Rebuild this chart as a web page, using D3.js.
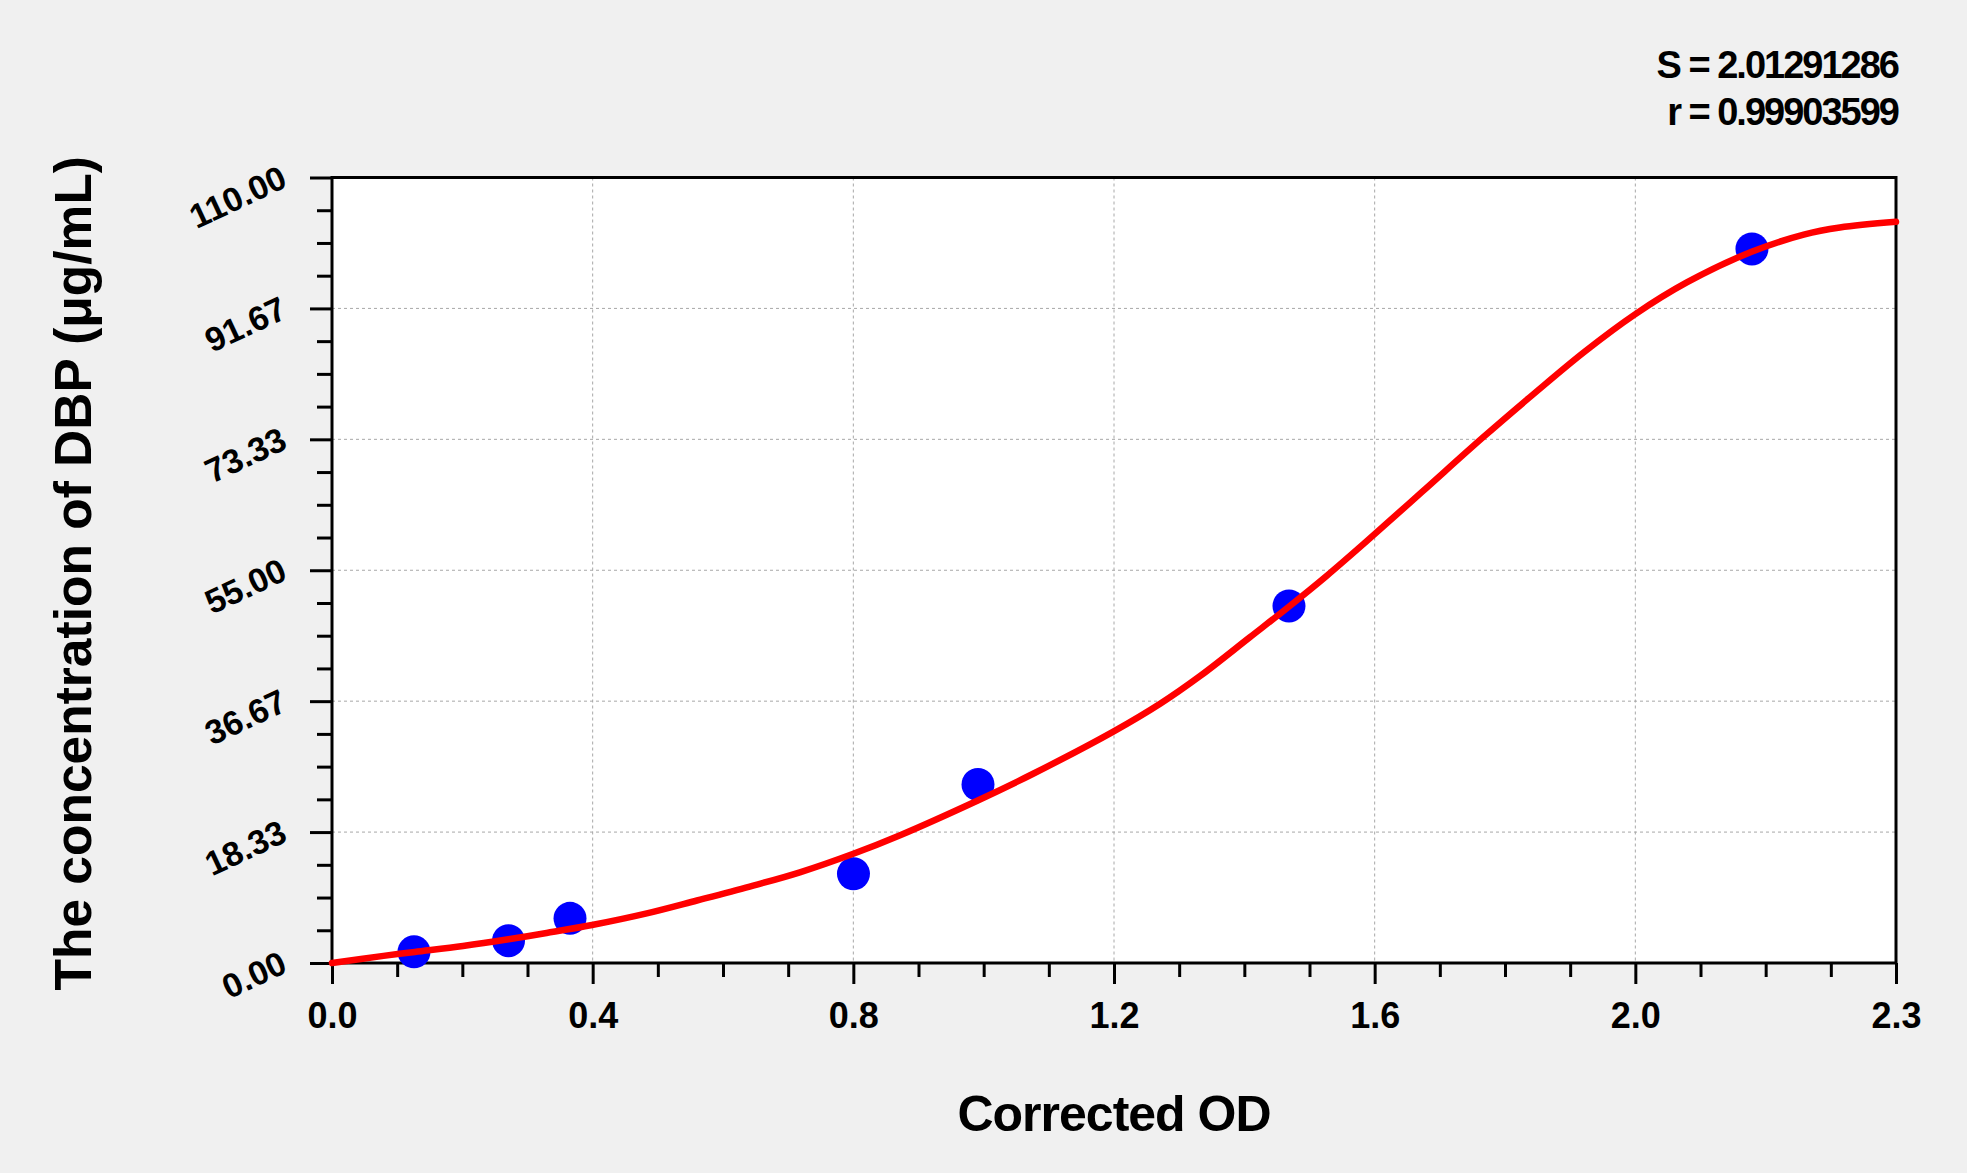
<!DOCTYPE html>
<html>
<head>
<meta charset="utf-8">
<script src="https://cdn.jsdelivr.net/npm/d3@7"></script>
<style>
  html, body { margin: 0; padding: 0; background: #f0f0f0; }
  svg { display: block; font-family: "Liberation Sans", Arial, sans-serif; font-weight: bold; }
</style>
</head>
<body>
<svg id="chart" width="1967" height="1173"></svg>
<script>
// ---- 数据：标准品浓度 vs 校正 OD ----
const odValues   = [0.1227, 0.2641, 0.3561, 0.7802, 0.9665, 1.4318, 2.1245];
const concValues = [1.5625, 3.125, 6.25, 12.5, 25, 50, 100];

// 拟合曲线（从图上读取的点）
const curveOd   = [0, 0.077, 0.124, 0.196, 0.264, 0.321, 0.389, 0.471, 0.546, 0.625, 0.700,
                   0.780, 0.850, 0.967, 1.049, 1.169, 1.239, 1.299, 1.373, 1.433, 1.488,
                   1.546, 1.630, 1.722, 1.798, 1.874, 1.949, 2.027, 2.124, 2.202, 2.256, 2.340];
const curveConc = [0, 1.0, 1.55, 2.38, 3.32, 4.2, 5.32, 6.95, 8.75, 10.7, 12.7,
                   15.3, 17.9, 22.8, 26.5, 32.4, 36.3, 40.2, 45.6, 50.0, 54.2,
                   58.9, 65.9, 73.6, 79.7, 85.6, 90.8, 95.3, 99.6, 102.0, 103.0, 103.8];

// 刻度
const xMax = 2.34, yMax = 110;
const xTickLabels = ["0.0", "0.4", "0.8", "1.2", "1.6", "2.0", "2.3"];
const yTickLabels = ["0.00", "18.33", "36.67", "55.00", "73.33", "91.67", "110.00"];
const statLines = ["S = 2.01291286", "r = 0.99903599"];

const svg = d3.select("#chart");
const L = 332, R = 1896, T = 177.5, B = 963;

const x = d3.scaleLinear().domain([0, xMax]).range([L, R]);
const y = d3.scaleLinear().domain([0, yMax]).range([B, T]);

const xMajor = xTickLabels.map((_, i) => i * xMax / 6);
const yMajor = yTickLabels.map((_, i) => i * yMax / 6);
const xMinor = d3.range(0, 25).map((i) => i * xMax / 24).filter((_, i) => i % 4);
const yMinor = d3.range(0, 25).map((i) => i * yMax / 24).filter((_, i) => i % 4);

// 绘图区
svg.append("rect").attr("x", L).attr("y", T).attr("width", R - L).attr("height", B - T)
  .attr("fill", "#fff");

// 网格（虚线）
const grid = svg.append("g").attr("stroke", "#a8a8a8").attr("stroke-width", 1)
  .attr("stroke-dasharray", "3,3");
grid.selectAll("line.gx").data(xMajor.slice(1, -1)).join("line").attr("class", "gx")
  .attr("x1", (d) => x(d)).attr("x2", (d) => x(d)).attr("y1", T).attr("y2", B);
grid.selectAll("line.gy").data(yMajor.slice(1, -1)).join("line").attr("class", "gy")
  .attr("x1", L).attr("x2", R).attr("y1", (d) => y(d)).attr("y2", (d) => y(d));

// 坐标轴
function styleAxis(g) {
  g.select(".domain").remove();
  g.selectAll(".tick line").attr("stroke", "#000").attr("stroke-width", 3);
}

svg.append("g").attr("transform", `translate(0,${B})`)
  .call(d3.axisBottom(x).tickValues(xMinor).tickSize(14).tickFormat(""))
  .call(styleAxis);
const gx = svg.append("g").attr("transform", `translate(0,${B})`)
  .call(d3.axisBottom(x).tickValues(xMajor).tickSize(21).tickPadding(0)
    .tickFormat((d, i) => xTickLabels[i]))
  .call(styleAxis);
gx.selectAll(".tick text").attr("y", 65).attr("dy", 0)
  .attr("fill", "#000").style("font-size", "36px").style("font-family", "Liberation Sans, Arial, sans-serif")
  .style("font-weight", "bold");

svg.append("g").attr("transform", `translate(${L},0)`)
  .call(d3.axisLeft(y).tickValues(yMinor).tickSize(15).tickFormat(""))
  .call(styleAxis);
const gy = svg.append("g").attr("transform", `translate(${L},0)`)
  .call(d3.axisLeft(y).tickValues(yMajor).tickSize(22)
    .tickFormat((d, i) => yTickLabels[i]))
  .call(styleAxis);
gy.selectAll(".tick text").attr("x", null).attr("dy", null)
  .attr("text-anchor", "end").attr("transform", "translate(-43,8) rotate(-25)")
  .attr("fill", "#000").style("font-size", "34px").style("font-family", "Liberation Sans, Arial, sans-serif")
  .style("font-weight", "bold");

// 边框
svg.append("rect").attr("x", L).attr("y", T).attr("width", R - L).attr("height", B - T)
  .attr("fill", "none").attr("stroke", "#000").attr("stroke-width", 3);

// 数据点
svg.append("g").selectAll("circle").data(odValues).join("circle")
  .attr("cx", (d) => x(d)).attr("cy", (d, i) => y(concValues[i])).attr("r", 16.5)
  .attr("fill", "#0000ff");

// 拟合曲线
const line = d3.line().x((d) => x(d[0])).y((d) => y(d[1])).curve(d3.curveCatmullRom.alpha(0.5));
svg.append("path").datum(curveOd.map((d, i) => [d, curveConc[i]]))
  .attr("d", line).attr("fill", "none").attr("stroke", "#ff0000")
  .attr("stroke-width", 6.5).attr("stroke-linejoin", "round").attr("stroke-linecap", "round");

// 统计量
svg.append("g").selectAll("text").data(statLines).join("text")
  .attr("x", R + 2).attr("y", (d, i) => 78 + i * 47).attr("text-anchor", "end")
  .style("font-size", "38px").style("letter-spacing", "-2px").text((d) => d);

// 轴标题
svg.append("text").attr("x", (L + R) / 2).attr("y", 1131).attr("text-anchor", "middle")
  .style("font-size", "50px").style("letter-spacing", "-1px").text("Corrected OD");
svg.append("text").attr("transform", `translate(91,${(T + B) / 2 + 3}) rotate(-90)`)
  .attr("text-anchor", "middle").style("font-size", "51.5px")
  .text("The concentration of DBP (μg/mL)");
</script>
</body>
</html>
